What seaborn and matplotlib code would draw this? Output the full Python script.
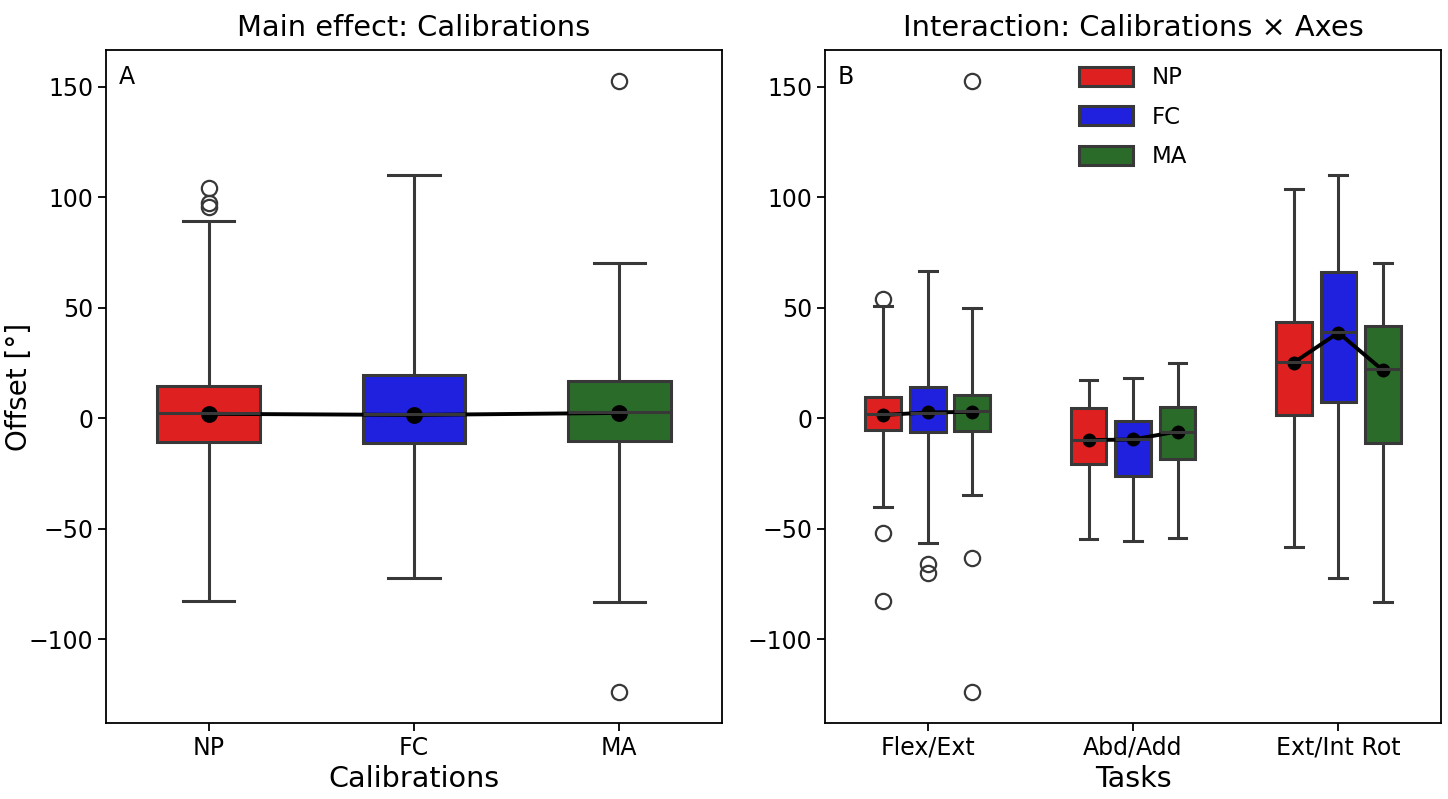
import numpy as np
import pandas as pd
import matplotlib
matplotlib.use("Agg")
import matplotlib.pyplot as plt
import seaborn as sns

# ---------------- data ----------------
calibrations = ["NP", "FC", "MA"]
tasks = ["Flex/Ext", "Abd/Add", "Ext/Int Rot"]
palette = ["#df2020", "#2020df", "#2a6b2a"]
edge_color = "#383838"

# Panel A: box statistics per calibration
a_wlo = [-82.6, -72.3, -82.9]
a_q1 = [-10.7, -11.3, -10.4]
a_med = [2.2, 2.0, 2.6]
a_q3 = [14.6, 19.6, 16.9]
a_whi = [89.4, 109.9, 70.0]
a_out_lo = [[], [], [-124.0]]
a_out_hi = [[95.5, 97.5, 104.0], [], [152.7]]
a_mean = [2.0, 1.5, 2.4]

# Panel B: box statistics per task (rows) and calibration (columns NP, FC, MA)
b_wlo = [[-40.1, -56.2, -34.8], [-54.7, -55.5, -54.1], [-58.2, -72.3, -82.9]]
b_q1 = [[-5.3, -6.0, -5.7], [-20.5, -26.1, -18.5], [1.5, 7.4, -11.0]]
b_med = [[1.8, 2.5, 3.3], [-9.9, -9.6, -6.0], [25.6, 39.2, 22.2]]
b_q3 = [[9.8, 14.3, 10.4], [4.8, -1.2, 5.1], [43.7, 66.1, 41.7]]
b_whi = [[50.8, 66.6, 50.0], [17.2, 18.2, 24.9], [103.8, 109.9, 70.0]]
b_out_lo = [[[-51.7, -82.6], [-66.0, -70.2], [-63.4, -124.0]],
            [[], [], []],
            [[], [], []]]
b_out_hi = [[[54.1], [], [152.7]],
            [[], [], []],
            [[], [], []]]
b_mean = [[1.5, 2.6, 2.9], [-9.9, -9.6, -6.0], [25.2, 38.7, 21.7]]


def sample_from_stats(wlo, q1, med, q3, whi, lo_out, hi_out, m=4):
    """Build a small sample whose quartiles / whiskers / fliers equal the given stats."""
    head = sorted(lo_out) + [wlo]
    tail = [whi] + sorted(hi_out)
    vals = (head + [q1] * (m + 1 - len(head))
            + [med] * m
            + [q3] * m
            + [q3] * (m - len(tail)) + tail)
    return vals


rows_a = []
for i, cal in enumerate(calibrations):
    for v in sample_from_stats(a_wlo[i], a_q1[i], a_med[i], a_q3[i], a_whi[i],
                               a_out_lo[i], a_out_hi[i]):
        rows_a.append({"Calibration": cal, "Offset": v})
df_a = pd.DataFrame(rows_a)

rows_b = []
for t, task in enumerate(tasks):
    for j, cal in enumerate(calibrations):
        for v in sample_from_stats(b_wlo[t][j], b_q1[t][j], b_med[t][j], b_q3[t][j],
                                   b_whi[t][j], b_out_lo[t][j], b_out_hi[t][j]):
            rows_b.append({"Task": task, "Calibration": cal, "Offset": v})
df_b = pd.DataFrame(rows_b)

# ---------------- style ----------------
plt.rcParams["font.family"] = ["DejaVu Sans"]
plt.rcParams["axes.linewidth"] = 1.3
plt.rcParams["xtick.major.width"] = 1.3
plt.rcParams["ytick.major.width"] = 1.3
plt.rcParams["xtick.major.size"] = 5.5
plt.rcParams["ytick.major.size"] = 5.5
plt.rcParams["xtick.labelsize"] = 17
plt.rcParams["ytick.labelsize"] = 17

fig = plt.figure(figsize=(14.48, 7.99), dpi=100)
axA = fig.add_axes([0.0732, 0.0951, 0.4254, 0.8423])
axB = fig.add_axes([0.5698, 0.0951, 0.4254, 0.8423])

flier = dict(marker="o", markerfacecolor="none", markersize=11, markeredgewidth=1.6,
             markeredgecolor=edge_color)

# Panel A
sns.boxplot(data=df_a, x="Calibration", y="Offset", hue="Calibration",
            order=calibrations, hue_order=calibrations, palette=palette, saturation=1,
            width=0.5, whis=3.1, linewidth=2.2, linecolor=edge_color, flierprops=flier,
            legend=False, ax=axA)
sns.pointplot(x=calibrations, y=a_mean, order=calibrations, color="black",
              errorbar=None, markersize=10, linewidth=2.8, ax=axA)
axA.set_title("Main effect: Calibrations", fontsize=20.8, pad=10)
axA.set_xlabel("Calibrations", fontsize=20.6)
axA.set_ylabel("Offset [°]", fontsize=20)
axA.yaxis.set_label_coords(-0.118, 0.5)
axA.text(0.02, 0.978, "A", transform=axA.transAxes, ha="left", va="top", fontsize=17)

# Panel B
box_width = 0.65
sns.boxplot(data=df_b, x="Task", y="Offset", hue="Calibration",
            order=tasks, hue_order=calibrations, palette=palette, saturation=1,
            width=box_width, gap=0.2, whis=2.8, linewidth=2.2, linecolor=edge_color,
            flierprops=flier, ax=axB)
n_h = len(calibrations)
step = box_width / n_h
mean_rows = []
for t, task in enumerate(tasks):
    for j, cal in enumerate(calibrations):
        mean_rows.append({"task": task, "pos": t + (j - (n_h - 1) / 2) * step,
                          "mean": b_mean[t][j]})
df_mean = pd.DataFrame(mean_rows)
sns.lineplot(data=df_mean, x="pos", y="mean", units="task", estimator=None,
             color="black", marker="o", markersize=10, markeredgewidth=0,
             linewidth=2.8, ax=axB, legend=False)
axB.set_title("Interaction: Calibrations × Axes", fontsize=20.8, pad=10)
axB.set_xlabel("Tasks", fontsize=20.6)
axB.set_ylabel("")
axB.set_xlim(-0.5, len(tasks) - 0.5)
axB.set_xticks(range(len(tasks)))
axB.set_xticklabels(tasks)
axB.text(0.02, 0.978, "B", transform=axB.transAxes, ha="left", va="top", fontsize=17)
sns.move_legend(axB, "upper center", frameon=False, title=None, fontsize=16.5,
                handlelength=2.35, handleheight=0.9, labelspacing=0.72,
                borderaxespad=0.3)

fig.savefig("out.png", dpi=100)
